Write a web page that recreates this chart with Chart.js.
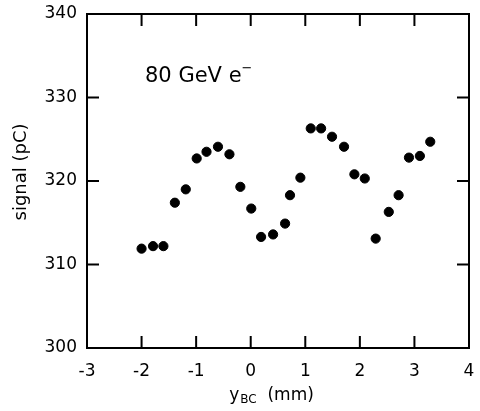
<!DOCTYPE html>
<html>
<head>
<meta charset="utf-8">
<script src="https://cdn.jsdelivr.net/npm/chart.js@4/dist/chart.umd.min.js"></script>
<style>
  html, body { margin: 0; padding: 0; background: #fff; }
  #wrap { width: 480px; height: 411px; }
</style>
</head>
<body>
<div id="wrap"><canvas id="scan"></canvas></div>
<script>
// beam position scan, signal vs y_BC
const yBC = [-2.00, -1.79, -1.60, -1.39, -1.19, -0.99, -0.81, -0.60, -0.39, -0.19,
             0.01, 0.19, 0.41, 0.63, 0.72, 0.91, 1.10, 1.29, 1.49, 1.71,
             1.90, 2.09, 2.29, 2.53, 2.71, 2.90, 3.10, 3.29];
const signal = [311.9, 312.2, 312.2, 317.4, 319.0, 322.7, 323.5, 324.1, 323.2, 319.3,
                316.7, 313.3, 313.6, 314.9, 318.3, 320.4, 326.3, 326.3, 325.3, 324.1,
                320.8, 320.3, 313.1, 316.3, 318.3, 322.8, 323.0, 324.7];
const xTicks = [-3, -2, -1, 0, 1, 2, 3, 4];
const yTicks = [300, 310, 320, 330, 340];
const beamLabel = '80 GeV e';

const FONT = 'DejaVu Sans';
const INK = '#000';

// frame, inward ticks on all four sides, axis titles and the beam label
const framePlugin = {
    id: 'frame',
    afterDraw(chart) {
        const ctx = chart.ctx;
        const a = chart.chartArea;
        const sx = chart.scales.x, sy = chart.scales.y;
        ctx.save();
        ctx.strokeStyle = INK;
        ctx.lineWidth = 2;
        ctx.strokeRect(a.left, a.top, a.right - a.left, a.bottom - a.top);

        const len = 12;
        ctx.beginPath();
        xTicks.forEach(v => {
            const px = sx.getPixelForValue(v);
            ctx.moveTo(px, a.bottom); ctx.lineTo(px, a.bottom - len);
            ctx.moveTo(px, a.top);    ctx.lineTo(px, a.top + len);
        });
        yTicks.forEach(v => {
            const py = sy.getPixelForValue(v);
            ctx.moveTo(a.left, py);  ctx.lineTo(a.left + len, py);
            ctx.moveTo(a.right, py); ctx.lineTo(a.right - len, py);
        });
        ctx.stroke();

        ctx.fillStyle = INK;
        ctx.textBaseline = 'alphabetic';

        // x title: y with BC subscript, then unit
        const big = '17px "' + FONT + '"', small = '12px "' + FONT + '"';
        ctx.font = big;
        const wY = ctx.measureText('y').width;
        const wUnit = ctx.measureText('  (mm)').width;
        ctx.font = small;
        const wSub = ctx.measureText('BC').width;
        let x0 = 271 - (wY + wSub + wUnit) / 2;
        const base = 402;
        ctx.font = big;
        ctx.fillText('y', x0, base - 2);
        ctx.font = small;
        ctx.fillText('BC', x0 + wY + 1, base + 1);
        ctx.font = big;
        ctx.fillText('  (mm)', x0 + wY + wSub + 1, base - 2);

        // y title
        ctx.save();
        ctx.translate(26, 172);
        ctx.rotate(-Math.PI / 2);
        ctx.textAlign = 'center';
        ctx.font = '18px "' + FONT + '"';
        ctx.fillText('signal (pC)', 0, 0);
        ctx.restore();

        // beam label with superscript minus
        ctx.font = '21px "' + FONT + '"';
        ctx.fillText(beamLabel, 145, 82);
        const wl = ctx.measureText(beamLabel).width;
        ctx.font = '13px "' + FONT + '"';
        ctx.fillText('\u2212', 145 + wl, 72);
        ctx.restore();
    }
};

new Chart(document.getElementById('scan'), {
    type: 'scatter',
    data: {
        datasets: [{
            data: yBC.map((v, i) => ({ x: v, y: signal[i] })),
            backgroundColor: INK,
            borderColor: INK,
            pointRadius: 4.6,
            pointHoverRadius: 4.6,
        }],
    },
    options: {
        responsive: true,
        maintainAspectRatio: false,
        animation: false,
        events: [],
        layout: { padding: { top: 14, right: 11, left: 0, bottom: 0 } },
        plugins: { legend: { display: false }, tooltip: { enabled: false } },
        scales: {
            x: {
                type: 'linear',
                min: -3, max: 4,
                afterFit: s => {
                    s.height = 63;
                    s.paddingLeft = 0; s.paddingRight = 0;
                },
                afterBuildTicks: s => { s.ticks = xTicks.map(v => ({ value: v })); },
                grid: { display: false, drawTicks: false },
                border: { display: false },
                ticks: {
                    color: INK,
                    padding: 13,
                    font: { family: FONT, size: 17 },
                    callback: v => (v < 0 ? '-' + Math.abs(v) : String(v)),
                },
            },
            y: {
                type: 'linear',
                min: 300, max: 340,
                afterFit: s => {
                    s.width = 87;
                    s.paddingTop = 0; s.paddingBottom = 0;
                },
                afterBuildTicks: s => { s.ticks = yTicks.map(v => ({ value: v })); },
                grid: { display: false, drawTicks: false },
                border: { display: false },
                ticks: {
                    color: INK,
                    padding: 10,
                    font: { family: FONT, size: 17 },
                },
            },
        },
    },
    plugins: [framePlugin],
});
</script>
</body>
</html>
